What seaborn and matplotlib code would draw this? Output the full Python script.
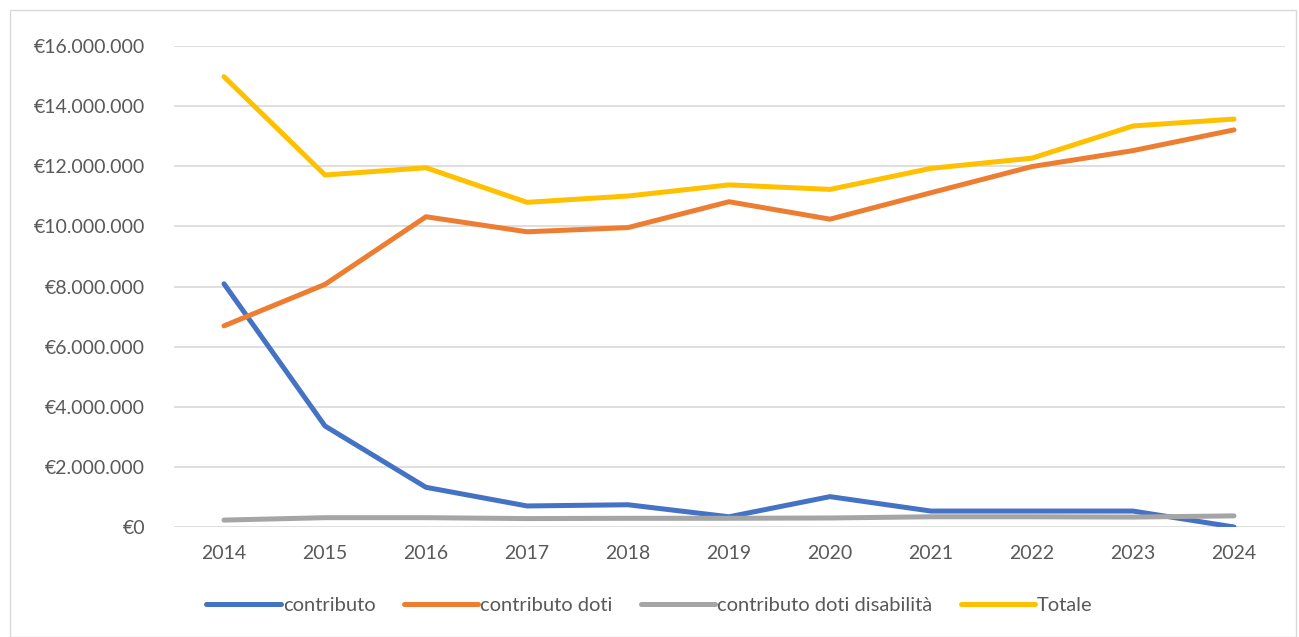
import matplotlib.pyplot as plt
import seaborn as sns
import pandas as pd
from matplotlib.ticker import FuncFormatter, MultipleLocator

years = [2014, 2015, 2016, 2017, 2018, 2019, 2020, 2021, 2022, 2023, 2024]
contributo = [8090000, 3360000, 1320000, 700000, 740000, 340000, 1010000, 530000, 530000, 530000, 0]
contributo_doti = [6690000, 8070000, 10320000, 9820000, 9960000, 10820000, 10240000, 11120000, 11990000, 12520000, 13210000]
contributo_disab = [230000, 310000, 310000, 280000, 290000, 290000, 300000, 340000, 340000, 330000, 370000]
totale = [14980000, 11710000, 11950000, 10800000, 11010000, 11380000, 11230000, 11930000, 12270000, 13340000, 13570000]

series_names = ['contributo', 'contributo doti', 'contributo doti disabilità', 'Totale']
colors = ['#4472C4', '#ED7D31', '#A5A5A5', '#FFC000']

df = pd.DataFrame({
    'anno': [str(y) for y in years] * 4,
    'valore': contributo + contributo_doti + contributo_disab + totale,
    'serie': [n for n in series_names for _ in years],
})

sns.set_theme(style="white")
plt.rcParams['font.family'] = ['Lato', 'DejaVu Sans']

fig = plt.figure(figsize=(12.99, 6.37), dpi=100)
ax = fig.add_axes([173.5 / 1299, 1 - 527 / 637, 1111 / 1299, 481 / 637])

sns.lineplot(data=df, x='anno', y='valore', hue='serie', palette=colors,
             linewidth=3.6, ax=ax, sort=False, solid_capstyle='round')

ax.set_xlim(-0.5, len(years) - 0.5)
ax.set_ylim(0, 16000000)
ax.yaxis.set_major_locator(MultipleLocator(2000000))
ax.yaxis.set_major_formatter(FuncFormatter(lambda v, p: '€' + f'{int(v):,}'.replace(',', '.')))
ax.grid(axis='y', color='#d9d9d9', linewidth=1.2)
ax.set_axisbelow(True)
for s in ax.spines.values():
    s.set_visible(False)
ax.tick_params(axis='both', length=0, labelsize=14, colors='#595959')
ax.tick_params(axis='x', pad=13)
ax.tick_params(axis='y', pad=20.5)

ax.set_xlabel('')
ax.set_ylabel('')

handles, labels = ax.get_legend_handles_labels()
leg = fig.legend(handles, labels, loc='center', bbox_to_anchor=(0.5, 1 - 605 / 637), ncol=4,
                 frameon=False, fontsize=14.5, handlelength=3.7, handletextpad=0.1,
                 columnspacing=1.4)
for t in leg.get_texts():
    t.set_color('#595959')
ax.get_legend().remove()

# chart area border
fig.patches.append(plt.Rectangle((10 / 1299, 0), 1286 / 1299, 627 / 637, transform=fig.transFigure,
                                 fill=False, edgecolor='#d9d9d9', linewidth=1.0))

plt.savefig('out.png', dpi=100)
